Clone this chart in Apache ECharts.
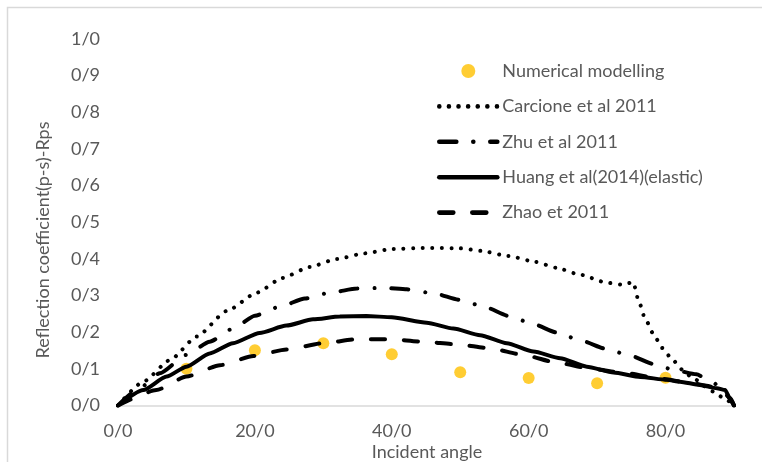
<!DOCTYPE html>
<html>
<head>
<meta charset="utf-8">
<script src="https://cdn.jsdelivr.net/npm/echarts@6/dist/echarts.min.js"></script>
<style>
html,body{margin:0;padding:0;background:#fff;}
#chart{width:762px;height:462px;}
</style>
</head>
<body>
<div id="chart"></div>
<script>
const seriesNames = ['Numerical modelling', 'Carcione et al 2011', 'Zhu et al 2011', 'Huang et al(2014)(elastic)', 'Zhao et 2011'];
const xTicks = [0, 20, 40, 60, 80];
const yTicks = [0, 0.1, 0.2, 0.3, 0.4, 0.5, 0.6, 0.7, 0.8, 0.9, 1.0];

const numericalModelling = [[10,0.100],[20,0.151],[30,0.170],[40,0.140],[50,0.091],[60,0.075],[70,0.061],[80,0.076]];

const carcione = [[0,0],[3.7,0.065],[7.6,0.124],[11.5,0.188],[15.9,0.258],[20.3,0.308],[24,0.348],[28,0.378],[32,0.400],[36,0.415],[40,0.427],[45,0.430],[50,0.429],[53,0.422],[57,0.408],[61,0.392],[64,0.376],[67.5,0.357],[71.4,0.335],[73.5,0.330],[75.3,0.336],[76,0.290],[77,0.238],[78.2,0.196],[79.5,0.157],[81,0.125],[82.5,0.097],[84,0.074],[87,0.038],[88.5,0.020],[90,0]];

const zhu = [[0,0],[3,0.045],[6.1,0.088],[10,0.138],[13.4,0.174],[16.8,0.210],[20,0.245],[23.7,0.270],[27.3,0.292],[31,0.308],[34.9,0.319],[38.8,0.321],[42.2,0.317],[46.1,0.306],[50,0.288],[53.4,0.270],[57.3,0.243],[60.7,0.222],[64.1,0.199],[67.8,0.176],[71.4,0.154],[74.8,0.136],[78.5,0.112],[81.2,0.097],[84.5,0.085],[87,0.062],[88.5,0.038],[90,0]];

const huang = [[0,0],[3.7,0.042],[7.1,0.079],[10,0.106],[13.4,0.142],[16.8,0.170],[20.7,0.198],[24.6,0.218],[28.5,0.235],[32.4,0.243],[36.3,0.244],[40,0.241],[45.1,0.226],[49,0.210],[52.9,0.192],[56.8,0.170],[60.7,0.147],[64.6,0.129],[68.5,0.106],[72.4,0.090],[76.3,0.078],[80.2,0.070],[82.1,0.065],[85,0.056],[87.5,0.047],[88.7,0.042],[89.4,0.020],[90,0]];

const zhao = [[0,0],[5.6,0.042],[10,0.079],[14.9,0.110],[19.8,0.135],[24.6,0.153],[30,0.170],[34.9,0.181],[39.7,0.181],[44.6,0.174],[49.5,0.167],[54.4,0.156],[59.2,0.138],[64.1,0.117],[69,0.101],[74.3,0.088],[79.2,0.073],[83,0.064],[86,0.054],[88,0.044],[89.5,0.020],[90,0]];

const fmt = v => Number(v).toFixed(1).replace('.', '/');
const txt = '#595959';
const font = 'Lato';
const lw = 4;

const chart = echarts.init(document.getElementById('chart'), null, {renderer: 'canvas'});
chart.setOption({
  animation: false,
  backgroundColor: '#ffffff',
  grid: {left: 118, right: 28, top: 39, bottom: 56.5, containLabel: false},
  xAxis: {
    type: 'value', min: 0, max: 90, interval: 20,
    axisLine: {show: true, lineStyle: {color: '#D9D9D9', width: 1.5}},
    axisTick: {show: false},
    splitLine: {show: false},
    axisLabel: {color: txt, fontFamily: font, fontSize: 18, margin: 17, showMaxLabel: false,
      formatter: v => xTicks.includes(v) ? fmt(v) : ''}
  },
  yAxis: {
    type: 'value', min: 0, max: 1, interval: 0.1,
    axisLine: {show: false},
    axisTick: {show: false},
    splitLine: {show: false},
    axisLabel: {color: txt, fontFamily: font, fontSize: 18, margin: 18,
      formatter: v => fmt(yTicks.find(t => Math.abs(t - v) < 1e-6) ?? v)}
  },
  legend: {
    orient: 'vertical', left: 432, top: 57, padding: 5,
    itemWidth: 58, itemHeight: 14, itemGap: 17.4,
    textStyle: {color: txt, fontFamily: font, fontSize: 18},
    data: [
      {name: seriesNames[0]},
      {name: seriesNames[1], itemStyle: {opacity: 0}, lineStyle: {width: 4.6}},
      {name: seriesNames[2], itemStyle: {opacity: 0}, lineStyle: {width: 4.6}},
      {name: seriesNames[3], itemStyle: {opacity: 0}, lineStyle: {width: 4.6}},
      {name: seriesNames[4], itemStyle: {opacity: 0}, lineStyle: {width: 4.6}}
    ]
  },
  graphic: [
    {type: 'rect', shape: {x: 7.5, y: 7.5, width: 800, height: 500}, style: {fill: 'none', stroke: '#D9D9D9', lineWidth: 1.5}, silent: true, z: -10},
    {type: 'text', x: 427, y: 452, style: {text: 'Incident angle', fill: txt, font: '18px Lato', textAlign: 'center', textVerticalAlign: 'middle'}},
    {type: 'text', x: 43, y: 240, rotation: Math.PI / 2, style: {text: 'Reflection coefficient(p-s)-Rps', fill: txt, font: '18px Lato', textAlign: 'center', textVerticalAlign: 'middle'}}
  ],
  series: [
    {name: seriesNames[0], type: 'scatter', data: numericalModelling, symbol: 'circle', symbolSize: 12,
      itemStyle: {color: '#FFC000'}, z: 1},
    {name: seriesNames[1], type: 'line', data: carcione, showSymbol: false, symbol: 'none', smooth: 0.2, smoothMonotone: 'x',
      lineStyle: {color: '#000', width: lw, type: [0.01, 9.6], cap: 'round'}, itemStyle: {color: '#000'}, z: 2},
    {name: seriesNames[2], type: 'line', data: zhu, showSymbol: false, symbol: 'none', smooth: 0.2, smoothMonotone: 'x',
      lineStyle: {color: '#000', width: lw, type: [17, 17, 0.01, 17], cap: 'round'}, itemStyle: {color: '#000'}, z: 2},
    {name: seriesNames[3], type: 'line', data: huang, showSymbol: false, symbol: 'none', smooth: 0.2, smoothMonotone: 'x',
      lineStyle: {color: '#000', width: lw, cap: 'round'}, itemStyle: {color: '#000'}, z: 2},
    {name: seriesNames[4], type: 'line', data: zhao, showSymbol: false, symbol: 'none', smooth: 0.2, smoothMonotone: 'x',
      lineStyle: {color: '#000', width: lw, type: [14, 19], cap: 'round'}, itemStyle: {color: '#000'}, z: 2}
  ]
});
</script>
</body>
</html>
